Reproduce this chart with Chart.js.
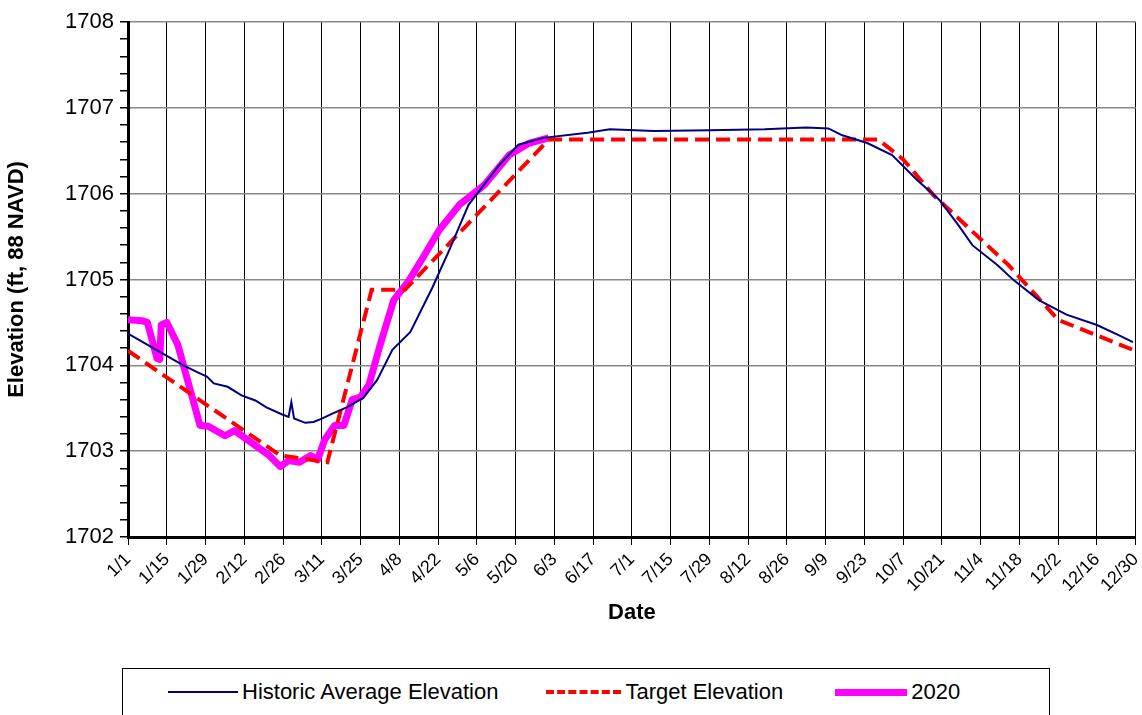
<!DOCTYPE html>
<html><head>
<script src="https://cdn.jsdelivr.net/npm/chart.js@4/dist/chart.umd.min.js"></script>
<style>
body{margin:0;background:#fff;font-family:Arial,"Liberation Sans",sans-serif;overflow:hidden}
#wrap{position:relative;width:1142px;height:660px;overflow:hidden}
#legend{position:absolute;left:122px;top:668px;width:928px;height:47px;border:1.5px solid #000;border-bottom:none;display:flex;align-items:center;font-size:22px;box-sizing:border-box}
.it{display:flex;align-items:center;margin-left:45px}
.ln{display:inline-block;width:70px;margin-right:4px}
</style></head>
<body>
<div id="wrap"><canvas id="c" width="1155" height="660"></canvas></div>
<div id="legend">
 <div class="it"><span class="ln" style="border-top:2.5px solid #000080"></span>Historic Average Elevation</div>
 <div class="it" style="margin-left:48px"><span class="ln" style="border-top:4px dashed #ff0000;width:75px"></span>Target Elevation</div>
 <div class="it" style="margin-left:52px"><span class="ln" style="border-top:7px solid #ff00ff;width:72px"></span>2020</div>
</div>
<script>
const tickLabels = ['1/1','1/15','1/29','2/12','2/26','3/11','3/25','4/8','4/22','5/6','5/20','6/3','6/17','7/1','7/15','7/29','8/12','8/26','9/9','9/23','10/7','10/21','11/4','11/18','12/2','12/16','12/30'];

const histDays = [0,20,25,28.5,31,36,41,46,50,55.5,58,59,60,64,67,70,74,79,85,90,95.5,102,110,116,123,134,141,150,166,174,190,210,230,245,253,258,267,276,285,293,300,305,314,320,329,339,350,358,363];
const histElev = [1704.37,1704.0,1703.92,1703.87,1703.79,1703.75,1703.65,1703.59,1703.51,1703.43,1703.40,1703.57,1703.38,1703.33,1703.34,1703.38,1703.44,1703.51,1703.62,1703.83,1704.18,1704.39,1704.91,1705.34,1705.87,1706.33,1706.57,1706.65,1706.71,1706.75,1706.73,1706.74,1706.75,1706.77,1706.76,1706.68,1706.59,1706.45,1706.16,1705.93,1705.63,1705.40,1705.17,1704.99,1704.76,1704.59,1704.47,1704.35,1704.27];

const targetDays = [0,55,72,88,100,152,271,280,291,318,336,363];
const targetElev = [1704.17,1702.95,1702.87,1704.88,1704.88,1706.63,1706.63,1706.4,1705.98,1705.17,1704.53,1704.18];

const y2020Days = [0,5,7,10.5,11.5,12,14,18,26,29,35,38.5,51,55,58,62,66,68.5,71,74.6,78,81,84,87,91,96,101.5,107,112.5,119.7,128.7,137.7,145,152];
const y2020Elev = [1704.53,1704.52,1704.5,1704.08,1704.07,1704.47,1704.5,1704.24,1703.3,1703.29,1703.18,1703.24,1702.95,1702.82,1702.89,1702.87,1702.95,1702.9,1703.13,1703.3,1703.3,1703.6,1703.63,1703.77,1704.23,1704.76,1704.99,1705.28,1705.58,1705.87,1706.1,1706.45,1706.59,1706.65];

const pts = (d, v) => d.map((x, i) => ({x: x, y: v[i]}));
const tickFont = {family: 'Arial, "Liberation Sans"', size: 22};

new Chart(document.getElementById('c'), {
    type: 'line',
    data: {
        datasets: [
            {label: 'Historic Average Elevation', data: pts(histDays, histElev), borderColor: '#000080', borderWidth: 2, pointRadius: 0, tension: 0},
            {label: 'Target Elevation', data: pts(targetDays, targetElev), borderColor: '#ff0000', borderWidth: 4, borderDash: [14, 7], pointRadius: 0},
            {label: '2020', data: pts(y2020Days, y2020Elev), borderColor: '#ff00ff', borderWidth: 7, pointRadius: 0, borderJoinStyle: 'round'}
        ]
    },
    options: {
        responsive: false,
        animation: false,
        layout: {padding: {top: 22, right: 0, left: 0, bottom: 30}},
        plugins: {legend: {display: false}, tooltip: {enabled: false}},
        scales: {
            x: {
                type: 'linear', min: 0, max: 364,
                afterBuildTicks: s => { s.ticks = tickLabels.map((t, i) => ({value: i * 14})); },
                afterFit: s => { s.height = 93; },
                ticks: {autoSkip: false, maxRotation: 45, minRotation: 45, color: '#000', padding: 4,
                    font: {family: 'Arial', size: 18},
                    callback: (v, i) => tickLabels[i]},
                grid: {color: '#000', lineWidth: 1, tickLength: 8},
                border: {color: '#000', width: 3},
                title: {display: true, text: 'Date', color: '#000', font: {family: 'Arial', size: 22, weight: 'bold'}, padding: {top: 0}}
            },
            y: {
                min: 1702, max: 1708,
                afterBuildTicks: s => { const t = []; for (let i = 0; i <= 30; i++) t.push({value: 1702 + i * 0.2}); s.ticks = t; },
                afterFit: s => { s.width = 128; },
                ticks: {autoSkip: false, color: '#000', font: tickFont, padding: 6,
                    callback: v => Math.abs(v - Math.round(v)) < 1e-6 ? String(Math.round(v)) : ''},
                grid: {
                    color: c => (c.tick && Math.abs(c.tick.value - Math.round(c.tick.value)) < 1e-6) ? '#888' : 'rgba(0,0,0,0)',
                    tickColor: '#000', lineWidth: 1.5, tickLength: 8
                },
                border: {color: '#000', width: 3},
                title: {display: true, text: 'Elevation (ft, 88 NAVD)', color: '#000', font: {family: 'Arial', size: 22, weight: 'bold'}, padding: {bottom: 4}}
            }
        }
    }
});
</script>
</body></html>
